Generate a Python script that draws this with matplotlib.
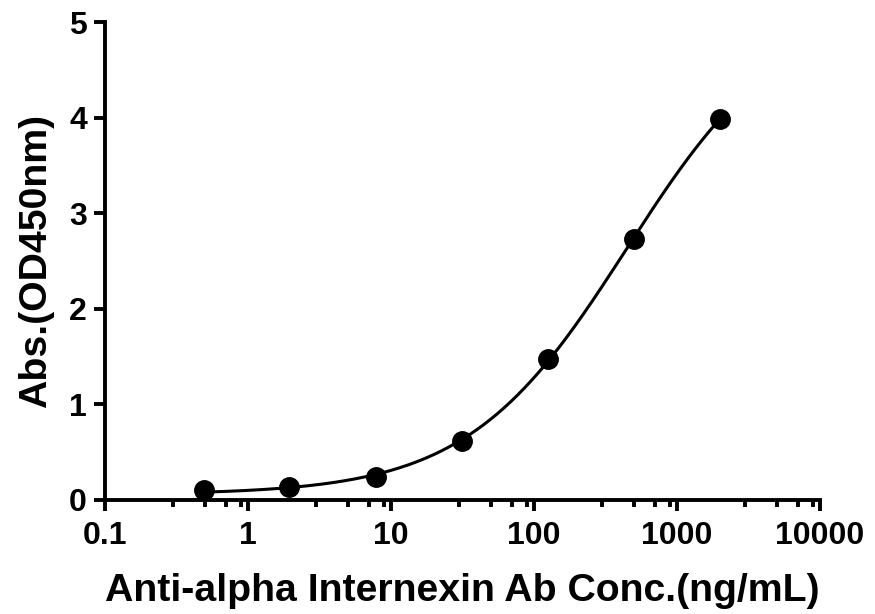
import numpy as np
import matplotlib
matplotlib.use("Agg")
import matplotlib.pyplot as plt
from matplotlib.ticker import FixedLocator, NullFormatter

# datos
conc = [0.49, 1.95, 7.8, 31.25, 125, 500, 2000]
absorb = [0.10, 0.13, 0.24, 0.62, 1.47, 2.73, 3.99]

xticks = [0.1, 1, 10, 100, 1000, 10000]
xtick_labels = ["0.1", "1", "10", "100", "1000", "10000"]
yticks = [0, 1, 2, 3, 4, 5]


def ajuste_4pl(x, y):
    # busqueda en rejilla para ec50 y pendiente, minimos cuadrados para base y tope
    x = np.asarray(x, float)
    y = np.asarray(y, float)
    mejor = None
    for lec in np.linspace(1.0, 4.0, 301):
        for h in np.linspace(0.5, 2.5, 201):
            f = 1.0 / (1.0 + (10 ** lec / x) ** h)
            A = np.column_stack([1 - f, f])
            coef, *_ = np.linalg.lstsq(A, y, rcond=None)
            err = np.sum((A @ coef - y) ** 2)
            if mejor is None or err < mejor[0]:
                mejor = (err, coef[0], coef[1], 10 ** lec, h)
    return mejor[1:]


base, tope, ec50, pend = ajuste_4pl(conc, absorb)
xs = np.logspace(np.log10(conc[0]), np.log10(conc[-1]), 300)
ys = base + (tope - base) / (1 + (ec50 / xs) ** pend)

plt.rcParams['font.family'] = ['Liberation Sans', 'DejaVu Sans']
plt.rcParams['font.weight'] = 'bold'

fig = plt.figure(figsize=(8.75, 6.14), dpi=100)
ax = fig.add_axes([0.12, 0.186, 0.817, 0.778])

ax.plot(xs, ys, color="black", lw=2.2)
ax.plot(conc, absorb, "o", color="black", ms=14)

ax.set_xscale("log")
ax.set_xlim(0.1, 10000)
ax.set_ylim(0, 5)
ax.xaxis.set_major_locator(FixedLocator(xticks))
ax.set_xticklabels(xtick_labels)
menores = [d * m for d in [0.1, 1, 10, 100, 1000] for m in (3, 5, 7, 9)]
ax.xaxis.set_minor_locator(FixedLocator(menores))
ax.xaxis.set_minor_formatter(NullFormatter())
ax.set_yticks(yticks)

for lado in ["top", "right"]:
    ax.spines[lado].set_visible(False)
for lado in ["left", "bottom"]:
    ax.spines[lado].set_linewidth(2.8)

ax.tick_params(which="major", length=8, width=2.8, labelsize=23)
ax.tick_params(which="minor", length=5, width=2.8)
ax.tick_params(axis="x", which="major", pad=7)
ax.tick_params(axis="y", which="major", pad=5)

ax.set_xlabel("Anti-alpha Internexin Ab Conc.(ng/mL)", fontsize=28.3, fontweight="bold", labelpad=16)
ax.set_ylabel("Abs.(OD450nm)", fontsize=28.3, fontweight="bold", labelpad=11)

fig.savefig("out.png", dpi=100)
